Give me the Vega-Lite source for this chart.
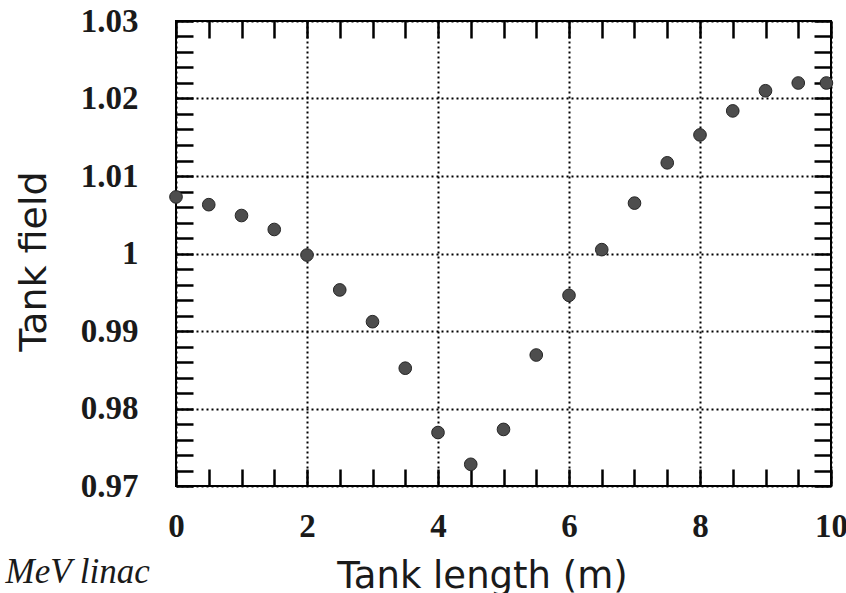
{
  "$schema": "https://vega.github.io/schema/vega-lite/v6.json",
  "width": 655,
  "height": 465,
  "autosize": "none",
  "padding": {"left": 176, "top": 21, "right": 15, "bottom": 107},
  "background": "white",
  "config": {
    "view": {"stroke": "black", "strokeWidth": 2},
    "axis": {"domain": false, "labelColor": "#1a1a1a", "titleColor": "#1a1a1a", "labelFlush": false}
  },
  "data": {
    "values": [
      {"length": 0, "field": 1.0073},
      {"length": 0.5, "field": 1.0063},
      {"length": 1, "field": 1.0049},
      {"length": 1.5, "field": 1.0031},
      {"length": 2, "field": 0.9998},
      {"length": 2.5, "field": 0.9953},
      {"length": 3, "field": 0.9912},
      {"length": 3.5, "field": 0.9852},
      {"length": 4, "field": 0.9769},
      {"length": 4.5, "field": 0.9728},
      {"length": 5, "field": 0.9773},
      {"length": 5.5, "field": 0.9869},
      {"length": 6, "field": 0.9946},
      {"length": 6.5, "field": 1.0005},
      {"length": 7, "field": 1.0065},
      {"length": 7.5, "field": 1.0117},
      {"length": 8, "field": 1.0153},
      {"length": 8.5, "field": 1.0184},
      {"length": 9, "field": 1.021},
      {"length": 9.5, "field": 1.022},
      {"length": 9.93, "field": 1.022}
    ]
  },
  "resolve": {"axis": {"x": "independent", "y": "independent"}},
  "layer": [
    {
      "mark": {"type": "point", "filled": true, "size": 160, "fill": "#4d4d4d", "stroke": "#262626", "strokeWidth": 1, "opacity": 1},
      "encoding": {
        "x": {
          "field": "length", "type": "quantitative",
          "scale": {"domain": [0, 10], "nice": false, "zero": false},
          "axis": {
            "orient": "bottom",
            "values": [0, 0.5, 1, 1.5, 2, 2.5, 3, 3.5, 4, 4.5, 5, 5.5, 6, 6.5, 7, 7.5, 8, 8.5, 9, 9.5, 10],
            "format": "~g",
            "tickSize": -17, "tickColor": "black", "tickWidth": 2.5,
            "grid": true, "gridColor": "black", "gridDash": [2, 3], "gridWidth": 2,
            "gridOpacity": {"condition": {"test": "abs(datum.value % 2) < 0.001", "value": 1}, "value": 0},
            "labelExpr": "abs(datum.value % 2) < 0.001 ? datum.label : ''",
            "labelFont": "Liberation Serif", "labelFontWeight": "bold", "labelFontSize": 33,
            "labelPadding": 41, "labelBaseline": "top",
            "encoding": {
              "ticks": {"y2": {"signal": "abs(datum.value % 2) < 0.001 ? -17 : -9"}},
              "labels": {"dx": {"signal": "datum.value === 10 ? -4 : 0"}}
            },
            "title": "Tank length (m)", "titleFont": "DejaVu Sans", "titleFontWeight": "normal", "titleFontSize": 37,
            "titleX": 306, "titleY": 101, "titleAlign": "center", "titleBaseline": "alphabetic"
          }
        },
        "y": {
          "field": "field", "type": "quantitative",
          "scale": {"domain": [0.97, 1.03], "nice": false, "zero": false},
          "axis": {
            "orient": "left",
            "values": [0.97, 0.972, 0.974, 0.976, 0.978, 0.98, 0.982, 0.984, 0.986, 0.988, 0.99, 0.992, 0.994, 0.996, 0.998, 1, 1.002, 1.004, 1.006, 1.008, 1.01, 1.012, 1.014, 1.016, 1.018, 1.02, 1.022, 1.024, 1.026, 1.028, 1.03],
            "format": ".4~g",
            "tickSize": -17, "tickColor": "black", "tickWidth": 2.5,
            "grid": true, "gridColor": "black", "gridDash": [2, 3], "gridWidth": 2,
            "gridOpacity": {"condition": {"test": "abs(datum.value * 100 - round(datum.value * 100)) < 0.001", "value": 1}, "value": 0},
            "labelExpr": "abs(datum.value * 100 - round(datum.value * 100)) < 0.001 ? datum.label : ''",
            "labelFont": "Liberation Serif", "labelFontWeight": "bold", "labelFontSize": 33,
            "labelPadding": 55, "labelBaseline": "middle",
            "encoding": {
              "ticks": {"x2": {"signal": "abs(datum.value * 100 - round(datum.value * 100)) < 0.001 ? 17 : 9"}}
            },
            "title": "Tank field", "titleFont": "DejaVu Sans", "titleFontWeight": "normal", "titleFontSize": 38,
            "titleAngle": -90, "titleX": -131, "titleY": 240, "titleAlign": "center", "titleBaseline": "alphabetic"
          }
        }
      }
    },
    {
      "mark": {"type": "point", "opacity": 0},
      "encoding": {
        "x": {
          "field": "length", "type": "quantitative",
          "axis": {
            "orient": "top",
            "values": [0, 0.5, 1, 1.5, 2, 2.5, 3, 3.5, 4, 4.5, 5, 5.5, 6, 6.5, 7, 7.5, 8, 8.5, 9, 9.5, 10],
            "tickSize": -17, "tickColor": "black", "tickWidth": 2.5, "labels": false, "grid": false,
            "encoding": {
              "ticks": {"y2": {"signal": "abs(datum.value % 2) < 0.001 ? 17 : 9"}}
            },
            "title": "MeV linac", "titleFont": "Liberation Serif", "titleFontStyle": "italic", "titleFontWeight": "normal", "titleFontSize": 35,
            "titleX": -171, "titleY": 561, "titleAlign": "left", "titleBaseline": "alphabetic"
          }
        },
        "y": {
          "field": "field", "type": "quantitative",
          "axis": {
            "orient": "right",
            "values": [0.97, 0.972, 0.974, 0.976, 0.978, 0.98, 0.982, 0.984, 0.986, 0.988, 0.99, 0.992, 0.994, 0.996, 0.998, 1, 1.002, 1.004, 1.006, 1.008, 1.01, 1.012, 1.014, 1.016, 1.018, 1.02, 1.022, 1.024, 1.026, 1.028, 1.03],
            "tickSize": -17, "tickColor": "black", "tickWidth": 2.5, "labels": false, "grid": false,
            "encoding": {
              "ticks": {"x2": {"signal": "abs(datum.value * 100 - round(datum.value * 100)) < 0.001 ? -17 : -9"}}
            },
            "title": null
          }
        }
      }
    }
  ]
}
